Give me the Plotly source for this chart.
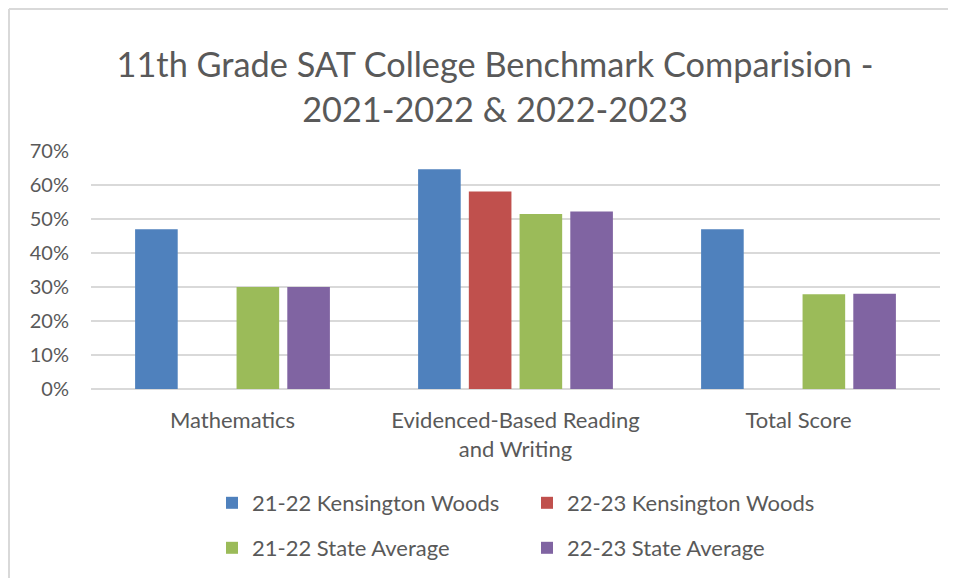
import plotly.graph_objects as go

categories = ["Mathematics", "Evidenced-Based Reading<br>and Writing", "Total Score"]
kw_2122 = [0.47, 0.646, 0.47]
kw_2223 = [None, 0.581, None]
state_2122 = [0.30, 0.515, 0.279]
state_2223 = [0.30, 0.522, 0.28]
series_names = ["21-22 Kensington Woods", "22-23 Kensington Woods",
                "21-22 State Average", "22-23 State Average"]
colors = ["#4F81BD", "#C0504D", "#9BBB59", "#8064A2"]
y_ticks = [0, 0.1, 0.2, 0.3, 0.4, 0.5, 0.6, 0.7]

FONT = "Lato, Carlito, Calibri, sans-serif"
TXT = "#595959"

fig = go.Figure()
vals = [kw_2122, kw_2223, state_2122, state_2223]
legends = ["legend", "legend", "legend2", "legend2"]
for name, v, c, lg in zip(series_names, vals, colors, legends):
    fig.add_trace(go.Bar(x=categories, y=v, name=name, marker_color=c,
                         marker_line_width=0, legend=lg))

# the page places the figure 8px in from the top-left corner
OFF = 8
W, H = 956 - OFF, 578 - OFF
L, T = 91 - OFF, 151 - OFF
R = W - (940 - OFF)
B = H - (389 - OFF)
PW, PH = W - L - R, H - T - B


def px_x(x):
    return (x - OFF - L) / PW


def px_y(y):
    return (H - B - (y - OFF)) / PH


fig.update_layout(
    width=W, height=H,
    margin=dict(l=L, r=R, t=T, b=B, autoexpand=False),
    paper_bgcolor="white", plot_bgcolor="white",
    barmode="group", bargap=0.283, bargroupgap=0.16,
    font=dict(family=FONT, color=TXT, size=22),
    title=dict(text="11th Grade SAT College Benchmark Comparision -<br>2021-2022 & 2022-2023",
               x=(495 - OFF) / W, xanchor="center", y=1 - 69 / H, yanchor="top",
               font=dict(family=FONT, size=34.3, color=TXT)),
    xaxis=dict(showline=False, ticks="", ticklabelstandoff=16,
               tickfont=dict(size=22, color=TXT)),
    yaxis=dict(range=[0, 0.7], tickvals=y_ticks, tickformat=".0%",
               showgrid=True, gridcolor="#D9D9D9", gridwidth=1.5,
               zeroline=True, zerolinecolor="#D9D9D9", zerolinewidth=1.5,
               showline=False, ticks="", ticklabelstandoff=21,
               tickfont=dict(size=20, color=TXT)),
    legend=dict(orientation="h", x=px_x(212), xanchor="left",
                y=px_y(503), yanchor="middle",
                entrywidth=270, entrywidthmode="pixels", traceorder="normal",
                font=dict(size=22, color=TXT), itemwidth=30, bgcolor="rgba(0,0,0,0)"),
    legend2=dict(orientation="h", x=px_x(212), xanchor="left",
                 y=px_y(548), yanchor="middle",
                 entrywidth=270, entrywidthmode="pixels", traceorder="normal",
                 font=dict(size=22, color=TXT), itemwidth=30, bgcolor="rgba(0,0,0,0)"),
    shapes=[
        dict(type="line", xref="paper", yref="paper",
             x0=px_x(9), x1=px_x(9), y0=px_y(9), y1=px_y(600),
             line=dict(color="#D9D9D9", width=2)),
        dict(type="line", xref="paper", yref="paper",
             x0=px_x(9), x1=px_x(980), y0=px_y(9), y1=px_y(9),
             line=dict(color="#D9D9D9", width=2)),
    ],
)

fig.write_html("out.html")
